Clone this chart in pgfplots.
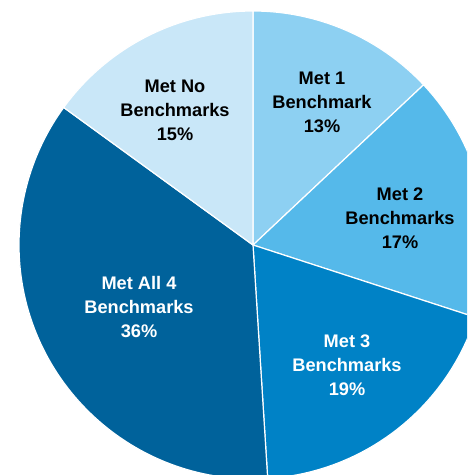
\documentclass[border=0pt]{standalone}
\usepackage{fontspec}
\setmainfont{Liberation Sans}
\usepackage{pgfplots}
\pgfplotsset{compat=1.18}
\definecolor{cNo}{HTML}{C9E7F8}
\definecolor{cOne}{HTML}{8DD0F2}
\definecolor{cTwo}{HTML}{55B9EA}
\definecolor{cThree}{HTML}{0082C6}
\definecolor{cFour}{HTML}{00629B}
% wedge: cumulative start percent, cumulative end percent, colour
\newcommand{\pieslice}[3]{%
  \fill[#3, draw=white, line width=1.2pt, line join=round]
    (axis cs:0,0) -- (axis cs:{234*cos(90-3.6*#1)},{234*sin(90-3.6*#1)})
    arc[start angle={90-3.6*#1}, end angle={90-3.6*#2}, radius=234pt] -- cycle;}
\begin{document}
\begin{tikzpicture}
\begin{axis}[
  x=1pt, y=1pt,
  xmin=-253, xmax=214, ymin=-230, ymax=245,
  hide axis, clip=true,
]
% shares (percent): Met 1 = 13, Met 2 = 17, Met 3 = 19, Met All 4 = 36, Met No = 15
\pieslice{0}{13}{cOne}
\pieslice{13}{30}{cTwo}
\pieslice{30}{49}{cThree}
\pieslice{49}{85}{cFour}
\pieslice{85}{100}{cNo}
\begin{scope}[every node/.style={align=center, font=\fontsize{18.2}{24}\selectfont\bfseries}]
\node[black] at (axis cs:69,143) {Met 1\\Benchmark\\13\%};
\node[black] at (axis cs:147,27) {Met 2\\Benchmarks\\17\%};
\node[white] at (axis cs:94,-120) {Met 3\\Benchmarks\\19\%};
\node[white] at (axis cs:-114,-62) {Met All 4\\Benchmarks\\36\%};
\node[black] at (axis cs:-78,135) {Met No\\Benchmarks\\15\%};
\end{scope}
\end{axis}
\pgfresetboundingbox
\path[use as bounding box] (current axis.south west) rectangle (current axis.north east);
\end{tikzpicture}
\end{document}
